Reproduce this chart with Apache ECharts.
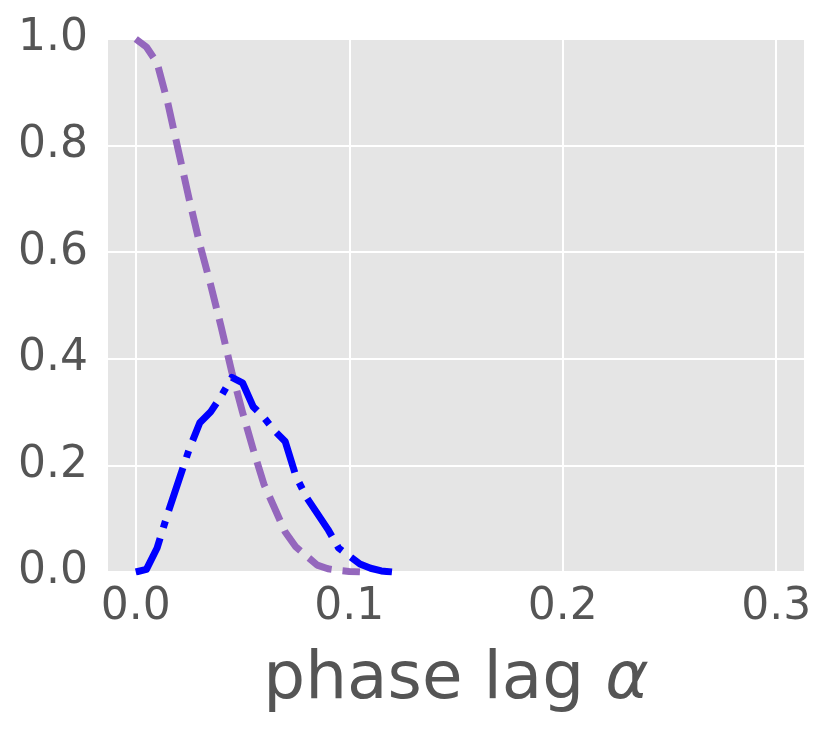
<!DOCTYPE html>
<html>
<head>
<meta charset="utf-8">
<script src="https://cdn.jsdelivr.net/npm/echarts@6/dist/echarts.min.js"></script>
<style>html,body{margin:0;padding:0;background:#fff;}#c{width:830px;height:731px;}</style>
</head>
<body>
<div id="c"></div>
<script>
// x values (phase lag alpha)
const alphaBlue = [0.000,0.005,0.010,0.015,0.020,0.025,0.030,0.035,0.040,0.045,0.050,0.055,0.060,0.065,0.070,0.075,0.080,0.085,0.090,0.095,0.100,0.105,0.110,0.115,0.120];
const blueVals  = [0.000,0.005,0.045,0.110,0.170,0.230,0.280,0.300,0.330,0.365,0.355,0.310,0.290,0.265,0.245,0.180,0.140,0.110,0.080,0.045,0.030,0.015,0.007,0.002,0.000];
const alphaPurple = [0.000,0.005,0.010,0.015,0.020,0.025,0.030,0.035,0.040,0.045,0.050,0.055,0.060,0.065,0.070,0.075,0.080,0.085,0.090,0.095,0.100,0.105];
const purpleVals  = [1.000,0.985,0.955,0.880,0.790,0.700,0.615,0.540,0.460,0.375,0.300,0.230,0.165,0.120,0.075,0.047,0.030,0.013,0.006,0.003,0.001,0.000];
const xTicks = [0.0,0.1,0.2,0.3];
const yTicks = [0.0,0.2,0.4,0.6,0.8,1.0];
const xName = 'phase lag {i|α}';

const zip = (xs, ys) => xs.map((x, i) => [x, ys[i]]);
const chart = echarts.init(document.getElementById('c'));
const FONT = 'DejaVu Sans';
chart.setOption({
  animation: false,
  grid: { left: 108, top: 39, right: 26, bottom: 159, show: true, backgroundColor: '#E5E5E5', borderWidth: 0 },
  xAxis: {
    type: 'value', min: -0.013, max: 0.313,
    axisLine: { show: false }, axisTick: { show: false, customValues: xTicks },
    splitLine: { show: true, lineStyle: { color: '#ffffff', width: 2 } },
    axisLabel: { customValues: xTicks, formatter: v => v.toFixed(1), fontFamily: FONT, fontSize: 44, color: '#555555', margin: 14 },
    name: xName, nameLocation: 'middle', nameGap: 76,
    nameTextStyle: { fontFamily: FONT, fontSize: 66, color: '#555555',
      rich: { i: { fontFamily: FONT, fontSize: 66, fontStyle: 'italic', color: '#555555' } } }
  },
  yAxis: {
    type: 'value', min: 0, max: 1, interval: 0.2,
    axisLine: { show: false }, axisTick: { show: false },
    splitLine: { show: true, lineStyle: { color: '#ffffff', width: 2 } },
    axisLabel: { formatter: v => v.toFixed(1), fontFamily: FONT, fontSize: 44, color: '#555555', margin: 20 }
  },
  series: [
    { type: 'line', data: zip(alphaPurple, purpleVals), showSymbol: false, clip: true,
      lineStyle: { color: '#9467bd', width: 7, type: [26, 11], cap: 'butt', join: 'round' } },
    { type: 'line', data: zip(alphaBlue, blueVals), showSymbol: false, clip: true,
      lineStyle: { color: '#0000ff', width: 7, type: [45, 11, 7, 11], cap: 'butt', join: 'round' } }
  ]
});
</script>
</body>
</html>
